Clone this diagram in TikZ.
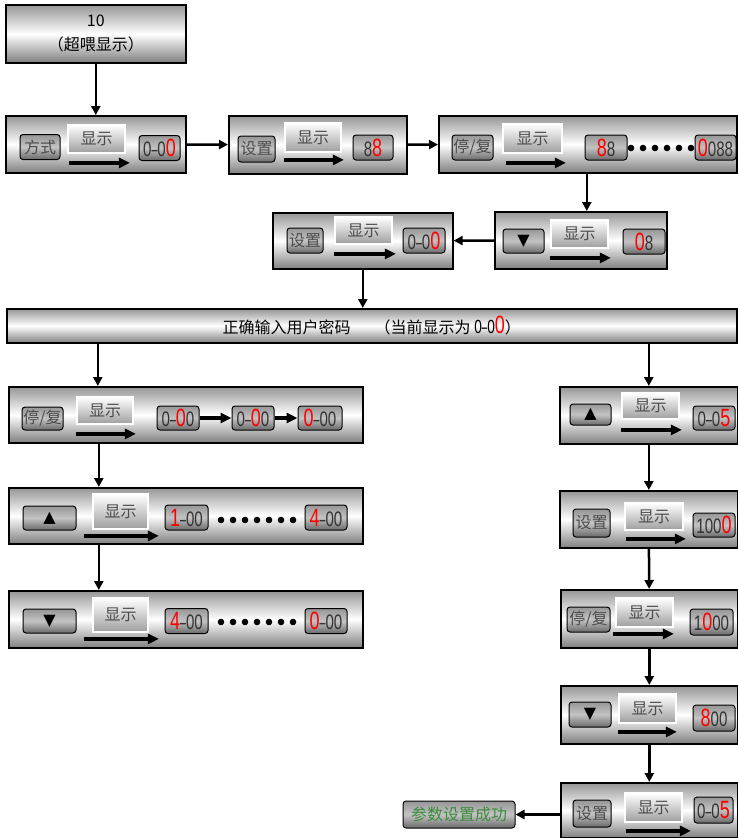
\documentclass[tikz,border=0pt]{standalone}
\usepackage{fontspec}
\setmainfont{Noto Sans CJK SC}
\newfontfamily\symfont{DejaVu Sans}
\newfontfamily\digitfont[FakeStretch=0.72]{Liberation Sans}
\usepackage{tikz}
\usetikzlibrary{arrows.meta,positioning,calc}
\definecolor{panelgray}{RGB}{150,150,150}
\definecolor{keygray}{RGB}{105,105,105}
\definecolor{okgreen}{RGB}{60,140,60}
\newcommand{\rdig}[1]{{\digitfont\color{red}\fontsize{25}{25}\selectfont #1}}
\newcommand{\dash}{\scalebox{0.7}[1]{\textendash}}

\begin{document}
\begin{tikzpicture}[x=1pt, y=-1pt, font=\fontsize{16}{19}\selectfont,
  panel/.style={rectangle, draw=black, line width=1.6pt, top color=panelgray, bottom color=panelgray!85!black, middle color=white, inner sep=0pt, anchor=north west},
  keybtn/.style={rectangle, rounded corners=3pt, draw=black, line width=1pt, top color=keygray!70, bottom color=keygray, middle color=keygray!40, text=black!70, inner sep=1pt, minimum height=25pt},
  showlbl/.style={rectangle, draw=white, line width=1.8pt, top color=white, bottom color=black!38, text=black!70, inner sep=0pt},
  disp/.style={keybtn, font=\digitfont\fontsize{21}{21}\selectfont, text=black!80},
  showarrow/.style={line width=4pt, -{Triangle[length=11pt,width=10pt]}},
  link/.style={line width=2.5pt, -{Triangle[length=9pt,width=9pt]}}]
  \useasboundingbox (0,0) rectangle (737,838);

  % top: over limit
  \node[panel, minimum width=180pt, minimum height=58pt, align=center] (overlimit) at (5,4) {10\\[5pt]（超喂显示）};

  % row 1
  \node[panel, minimum width=180pt, minimum height=57pt] (pmode) at (5,115) {};
  \node[keybtn, minimum width=40pt] (pmodekey) at (40,147) {方式};
  \node[showlbl, minimum width=57pt, minimum height=28pt] (pmodeshow) at (96.5,139) {显示};
  \draw[showarrow] ([xshift=2pt,yshift=-9pt]pmodeshow.south west) -- ([xshift=4pt,yshift=-9pt]pmodeshow.south east);
  \node[disp, minimum width=41pt] (pmodedisp) at (159.5,148) {0\dash0\rdig{0}};

  \node[panel, minimum width=178pt, minimum height=58pt] (pset) at (228,115) {};
  \node[keybtn, minimum width=37pt, minimum height=26pt] (psetkey) at (256.5,149) {设置};
  \node[showlbl, minimum width=56pt, minimum height=29pt] (psetshow) at (313,137.5) {显示};
  \draw[showarrow] ([yshift=-7pt]psetshow.south west) -- ([xshift=2pt,yshift=-7pt]psetshow.south east);
  \node[disp, minimum width=40pt] (psetdisp) at (373,147.5) {8\rdig{8}};

  \node[panel, minimum width=298pt, minimum height=57pt] (pstop) at (438,115) {};
  \node[keybtn, minimum width=41pt] (pstopkey) at (472.5,147.5) {停/复};
  \node[showlbl, minimum width=59pt, minimum height=29pt] (pstopshow) at (532.5,138.5) {显示};
  \draw[showarrow] ([xshift=4pt,yshift=-9pt]pstopshow.south west) -- ([xshift=3pt,yshift=-9pt]pstopshow.south east);
  \node[disp, minimum width=42pt] (pstopfirst) at (606,147.5) {\rdig{8}8};
  \node[disp, minimum width=41pt] (pstoplast) at (715.5,147.5) {\rdig{0}088};
  \foreach \i in {0,...,5} \fill (631+12*\i,148) circle (3.3);

  % row 2
  \node[panel, minimum width=172pt, minimum height=57pt] (pdown) at (494,211) {};
  \node[keybtn, minimum width=41pt, minimum height=24pt, text=black] (pdownkey) at (523.5,241) {\symfont ▼};
  \node[showlbl, minimum width=57pt, minimum height=28pt] (pdownshow) at (579.5,234) {显示};
  \draw[showarrow] ([yshift=-9pt]pdownshow.south west) -- ([xshift=2pt,yshift=-9pt]pdownshow.south east);
  \node[disp, minimum width=42pt] (pdowndisp) at (644,241.5) {\rdig{0}8};

  \node[panel, minimum width=180pt, minimum height=56pt] (pconfirm) at (272,212) {};
  \node[keybtn, minimum width=36pt] (pconfirmkey) at (305,240.5) {设置};
  \node[showlbl, minimum width=57pt, minimum height=27pt] (pconfirmshow) at (363.5,230.5) {显示};
  \draw[showarrow] ([yshift=-9pt]pconfirmshow.south west) -- ([xshift=3pt,yshift=-9pt]pconfirmshow.south east);
  \node[disp, minimum width=42pt] (pconfirmdisp) at (424,240.5) {0\dash0\rdig{0}};

  % password bar
  \node[panel, minimum width=730pt, minimum height=34pt] (pwd) at (6,308) {正确输入用户密码\quad\enspace （当前显示为 {\digitfont\fontsize{19}{19}\selectfont 0\dash0}\rdig{0}）};

  % left column
  \node[panel, minimum width=354pt, minimum height=56pt] (lstop) at (8,386) {};
  \node[keybtn, minimum width=41pt, minimum height=23pt] (lstopkey) at (42.5,418.5) {停/复};
  \node[showlbl, minimum width=56pt, minimum height=27pt] (lstopshow) at (105,410.5) {显示};
  \draw[showarrow] ([yshift=-9pt]lstopshow.south west) -- ([xshift=2pt,yshift=-9pt]lstopshow.south east);
  \node[disp, minimum width=42pt, minimum height=24pt] (lstopa) at (178,418) {0\dash\rdig{0}0};
  \node[disp, minimum width=42pt, minimum height=24pt] (lstopb) at (253,418) {0\dash\rdig{0}0};
  \node[disp, minimum width=44pt, minimum height=24pt] (lstopc) at (320,418) {\rdig{0}\dash00};
  \draw[showarrow] (lstopa) -- (lstopb);
  \draw[showarrow] (lstopb) -- (lstopc);

  \node[panel, minimum width=354pt, minimum height=56pt] (lup) at (8,487) {};
  \node[keybtn, minimum width=53pt, minimum height=24pt, text=black] (lupkey) at (49.5,518) {\symfont ▲};
  \node[showlbl, minimum width=55pt, minimum height=35pt] (lupshow) at (120.5,511.5) {显示};
  \draw[showarrow] ([xshift=-8pt,yshift=-6pt]lupshow.south west) -- ([xshift=10pt,yshift=-6pt]lupshow.south east);
  \node[disp, minimum width=43pt] (lupfirst) at (186.5,517.5) {\rdig{1}\dash00};
  \node[disp, minimum width=42pt] (luplast) at (326,517.5) {\rdig{4}\dash00};
  \foreach \i in {0,...,6} \fill (221+12*\i,520) circle (3.3);

  \node[panel, minimum width=354pt, minimum height=57pt] (ldown) at (8,590) {};
  \node[keybtn, minimum width=53pt, minimum height=24pt, text=black] (ldownkey) at (49.5,621) {\symfont ▼};
  \node[showlbl, minimum width=55pt, minimum height=34pt] (ldownshow) at (120.5,615) {显示};
  \draw[showarrow] ([xshift=-8pt,yshift=-6pt]ldownshow.south west) -- ([xshift=10pt,yshift=-6pt]ldownshow.south east);
  \node[disp, minimum width=43pt] (ldownfirst) at (186.5,621) {\rdig{4}\dash00};
  \node[disp, minimum width=42pt] (ldownlast) at (326,621) {\rdig{0}\dash00};
  \foreach \i in {0,...,6} \fill (221+12*\i,622) circle (3.3);

  % right column
  \node[panel, minimum width=178pt, minimum height=57pt] (rup) at (559,386) {};
  \node[keybtn, minimum width=41pt, minimum height=21pt, text=black] (rupkey) at (590.5,414.5) {\symfont ▲};
  \node[showlbl, minimum width=57pt, minimum height=26pt] (rupshow) at (650.5,406) {显示};
  \draw[showarrow] ([yshift=-10pt]rupshow.south west) -- ([xshift=2pt,yshift=-10pt]rupshow.south east);
  \node[disp, minimum width=42pt, minimum height=24pt] (rupdisp) at (714,418) {0\dash0\rdig{5}};

  \node[panel, minimum width=178pt, minimum height=57pt] (rset) at (559,490) {};
  \node[keybtn, minimum width=37pt, minimum height=28pt] (rsetkey) at (591.5,523) {设置};
  \node[showlbl, minimum width=58pt, minimum height=27pt] (rsetshow) at (654,516.5) {显示};
  \draw[showarrow] ([xshift=2pt,yshift=-8pt]rsetshow.south west) -- ([xshift=2pt,yshift=-8pt]rsetshow.south east);
  \node[disp, minimum width=42pt, minimum height=24pt] (rsetdisp) at (714,525) {100\rdig{0}};

  \node[panel, minimum width=177pt, minimum height=58pt] (rstop) at (560,589) {};
  \node[keybtn, minimum width=43pt] (rstopkey) at (588.5,619.5) {停/复};
  \node[showlbl, minimum width=57pt, minimum height=29pt] (rstopshow) at (644.5,612.5) {显示};
  \draw[showarrow] ([xshift=-2pt,yshift=-6pt]rstopshow.south west) -- ([yshift=-6pt]rstopshow.south east);
  \node[disp, minimum width=43pt, minimum height=26pt] (rstopdisp) at (711.5,622) {1\rdig{0}00};

  \node[panel, minimum width=177pt, minimum height=58pt] (rdown) at (560,685) {};
  \node[keybtn, minimum width=42pt, text=black] (rdownkey) at (590,714.5) {\symfont ▼};
  \node[showlbl, minimum width=57pt, minimum height=29pt] (rdownshow) at (647.5,708.5) {显示};
  \draw[showarrow] ([yshift=-8pt]rdownshow.south west) -- ([yshift=-8pt]rdownshow.south east);
  \node[disp, minimum width=42pt, minimum height=26pt] (rdowndisp) at (714,718) {\rdig{8}00};

  \node[panel, minimum width=177pt, minimum height=55pt] (rconfirm) at (560,782) {};
  \node[keybtn, minimum width=38pt, minimum height=27pt] (rconfirmkey) at (592,813.5) {设置};
  \node[showlbl, minimum width=57pt, minimum height=29pt] (rconfirmshow) at (653.5,807.5) {显示};
  \draw[showarrow] ([xshift=2pt,yshift=-8pt]rconfirmshow.south west) -- ([xshift=8pt,yshift=-8pt]rconfirmshow.south east);
  \node[disp, minimum width=39pt, minimum height=26pt] (rconfirmdisp) at (713.5,810) {0\dash0\rdig{5}};

  \node[keybtn, minimum width=112pt, minimum height=27pt, text=okgreen] (done) at (459,814.5) {参数设置成功};

  % connectors
  \draw[link] (overlimit) -- (pmode);
  \draw[link] (pmode) -- (pset);
  \draw[link] (pset) -- (pstop);
  \draw[link] ([xshift=6pt]pdown.north |- pstop.south) -- ([xshift=6pt]pdown.north);
  \draw[link] (pdown) -- (pconfirm);
  \draw[link] (pconfirm.south) -- (pconfirm.south |- pwd.north);
  \draw[link] ([xshift=-88pt]lstop.north |- pwd.south) -- ([xshift=-88pt]lstop.north);
  \draw[link] (rup.north |- pwd.south) -- (rup.north);
  \draw[link] ([xshift=-87pt]lstop.south) -- ([xshift=-87pt]lup.north);
  \draw[link] ([xshift=-87pt]lup.south) -- ([xshift=-87pt]ldown.north);
  \draw[link] (rup) -- (rset);
  \draw[link] (rset) -- (rstop);
  \draw[link] (rstop) -- (rdown);
  \draw[link] (rdown) -- (rconfirm);
  \draw[link] (rconfirm.west |- done.east) -- (done.east);
\end{tikzpicture}
\end{document}
